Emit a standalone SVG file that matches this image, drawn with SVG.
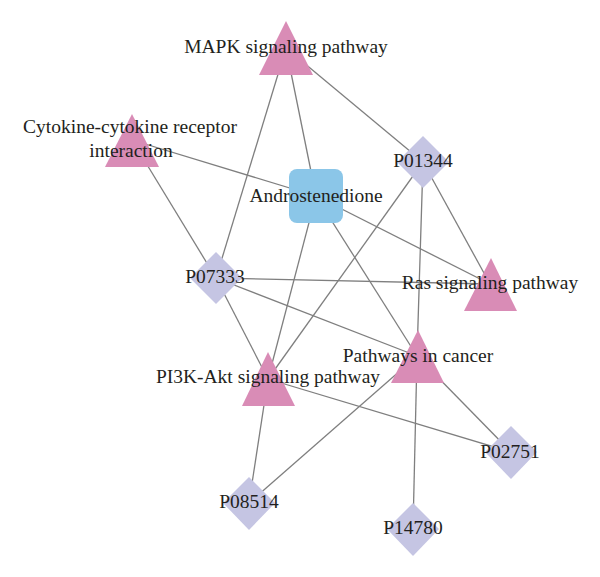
<svg xmlns="http://www.w3.org/2000/svg" width="600" height="577" viewBox="0 0 600 577">
<style>
.e{stroke:#7f7f7f;stroke-width:1.3;fill:none}
.tri{fill:#D98CB6}
.dia{fill:#C5C5E3}
.box{fill:#8BC6E8}
text{font-family:"Liberation Serif","Times New Roman",serif;font-size:19.5px;fill:#231F20;text-anchor:middle}
</style>
<rect width="600" height="577" fill="#fff"/>
<g id="edges">
<line class="e" x1="286" y1="48" x2="216" y2="278"/>
<line class="e" x1="286" y1="48" x2="316" y2="196"/>
<line class="e" x1="286" y1="48" x2="423" y2="162"/>
<line class="e" x1="132" y1="140" x2="316" y2="196"/>
<line class="e" x1="132" y1="140" x2="216" y2="278"/>
<line class="e" x1="316" y1="196" x2="490" y2="284"/>
<line class="e" x1="316" y1="196" x2="268" y2="379"/>
<line class="e" x1="316" y1="196" x2="417" y2="356"/>
<line class="e" x1="423" y1="162" x2="268" y2="379"/>
<line class="e" x1="423" y1="162" x2="417" y2="356"/>
<line class="e" x1="423" y1="162" x2="490" y2="284"/>
<line class="e" x1="216" y1="278" x2="490" y2="284"/>
<line class="e" x1="216" y1="278" x2="417" y2="356"/>
<line class="e" x1="216" y1="278" x2="268" y2="379"/>
<line class="e" x1="268" y1="379" x2="249" y2="503"/>
<line class="e" x1="268" y1="379" x2="511" y2="452"/>
<line class="e" x1="417" y1="356" x2="413" y2="529"/>
<line class="e" x1="417" y1="356" x2="511" y2="452"/>
<line class="e" x1="417" y1="356" x2="249" y2="503"/>
</g>
<g id="mapk"><polygon class="tri" points="286,21 313,75 259,75"/><text x="286" y="53">MAPK signaling pathway</text></g>
<g id="cytokine"><polygon class="tri" points="132,114 159,167 105,167"/><text x="130" y="133">Cytokine-cytokine receptor</text><text x="131" y="157">interaction</text></g>
<g id="androstenedione"><rect class="box" x="289" y="169" width="54" height="54" rx="8"/><text x="316" y="202">Androstenedione</text></g>
<g id="p01344"><polygon class="dia" points="423,136 449,162 423,188 397,162"/><text x="423" y="167">P01344</text></g>
<g id="p07333"><polygon class="dia" points="216,252 242,278 216,304 190,278"/><text x="215" y="283">P07333</text></g>
<g id="ras"><polygon class="tri" points="491,258 517,311 464,311"/><text x="490" y="289">Ras signaling pathway</text></g>
<g id="cancer"><polygon class="tri" points="418,330 444,383 391,383"/><text x="418" y="362">Pathways in cancer</text></g>
<g id="pi3k"><polygon class="tri" points="268,352 295,406 242,406"/><text x="268" y="383">PI3K-Akt signaling pathway</text></g>
<g id="p08514"><polygon class="dia" points="249,477 275,503 249,530 223,503"/><text x="249" y="508">P08514</text></g>
<g id="p14780"><polygon class="dia" points="413,503 439,529 413,556 387,529"/><text x="413" y="534">P14780</text></g>
<g id="p02751"><polygon class="dia" points="511,426 537,452 511,479 485,452"/><text x="510" y="458">P02751</text></g>
</svg>
